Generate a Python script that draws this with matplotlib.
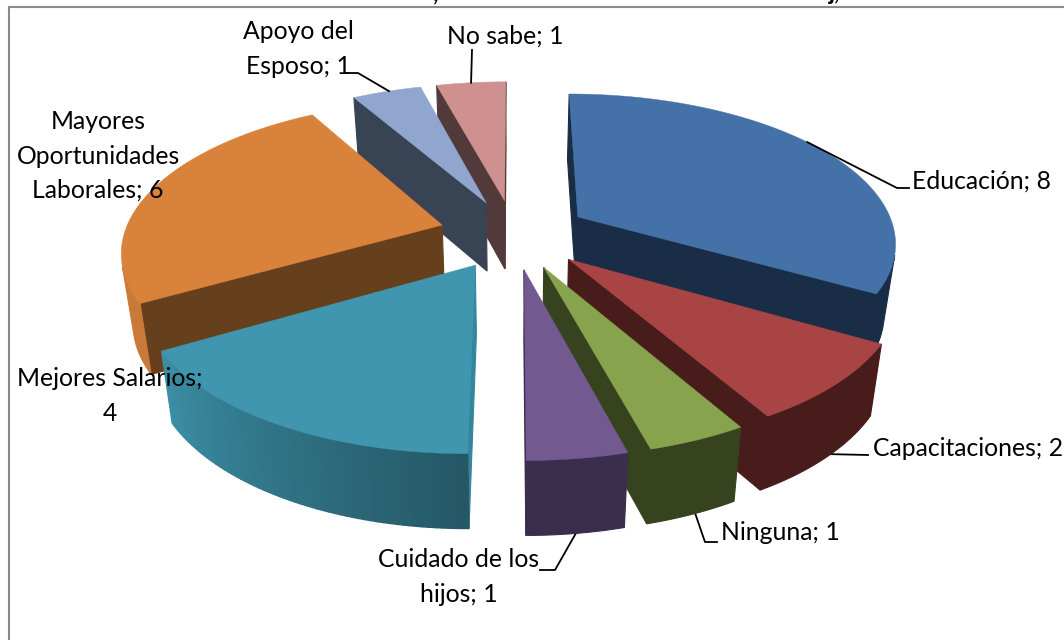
import numpy as np
import matplotlib
matplotlib.use("Agg")
import matplotlib.pyplot as plt

categories = ["Educación", "Capacitaciones", "Ninguna", "Cuidado de los hijos",
              "Mejores Salarios", "Mayores Oportunidades Laborales", "Apoyo del Esposo", "No sabe"]
values = [8, 2, 1, 1, 4, 6, 1, 1]
data_labels = ["Educación; 8", "Capacitaciones; 2", "Ninguna; 1", "Cuidado de los\nhijos; 1",
               "Mejores Salarios;\n4", "Mayores\nOportunidades\nLaborales; 6", "Apoyo del\nEsposo; 1", "No sabe; 1"]
top_colors = ["#4472a8", "#a84444", "#88a34d", "#725a90", "#3f96ae", "#d9823b", "#91a6cf", "#cf9090"]
cut_colors = ["#1a2d46", "#471c1b", "#37421f", "#3b2d4d", "#33869c", "#663f1c", "#384353", "#533a3a"]
wall_colors = ["#1a2d46", "#471c1b", "#37421f", "#3b2d4d", None, "#c97a38", "#384353", "#533a3a"]
draw_order = [7, 6, 0, 5, 1, 2, 3, 4]

label_pos = [(982, 181), (968, 448), (780, 533), (459, 577), (110, 396), (98, 156), (298, 49), (505, 36)]
leaders = {0: [(897, 188), (909, 188)], 1: [(868, 455)], 2: [(705, 542), (717, 542)],
           3: [(555, 570), (540, 570)], 6: [(358, 73), (347, 73)], 7: [(472, 50)]}
leader_angle = [55, 134, 157, 172.5, None, None, 338, 352.5]

# projection parameters (pixel scale)
CX, CY, A, B, K, EXPL = 514.0, 234.0, 318.0, 147.5, 0.159, 0.236
DROP, B_BOT, X_BOT = 69.0, 151.4, 0.97


def top(X, Y):
    d = 1 + K * Y
    return CX + A * X / d, CY - B * Y / d


def bottom(X, Y):
    d = 1 + K * Y
    return CX + X_BOT * A * X / d, CY + DROP - B_BOT * Y / d


def area(p):
    p = np.asarray(p)
    x, y = p[:, 0], p[:, 1]
    return 0.5 * np.sum(x * np.roll(y, -1) - np.roll(x, -1) * y)


def darker(hexcol, f):
    return tuple(min(1, c * f) for c in matplotlib.colors.to_rgb(hexcol))


def mej_shade(t):
    return float(np.interp(t, [180, 240], [0.58, 0.95]))


plt.rcParams["font.family"] = ["Lato", "DejaVu Sans"]
fig = plt.figure(figsize=(10.64, 6.4), dpi=100)
ax = fig.add_axes([0, 0, 1, 1])
ax.set_xlim(0, 1064)
ax.set_ylim(640, 0)
ax.axis("off")

# frame
ax.plot([9, 9, 1064], [640, 6.5, 6.5], color="#8a8a8a", lw=1.5, solid_joinstyle="miter", zorder=1)

edges = np.concatenate([[0], np.cumsum(values)]) * 360.0 / sum(values)
z = 2
for i in draw_order:
    t0, t1 = edges[i], edges[i + 1]
    mid = np.radians((t0 + t1) / 2)
    ox, oy = EXPL * np.sin(mid), EXPL * np.cos(mid)
    th = np.linspace(t0, t1, max(int(t1 - t0) + 1, 2))
    rad = np.radians(th)
    X, Y = np.sin(rad) + ox, np.cos(rad) + oy
    tp = [top(a, b) for a, b in zip(X, Y)]
    bt = [bottom(a, b) for a, b in zip(X, Y)]
    apex_t, apex_b = top(ox, oy), bottom(ox, oy)
    # cut faces
    for q in ([apex_t, tp[0], bt[0], apex_b], [tp[-1], apex_t, apex_b, bt[-1]]):
        if area(q) < 0:
            ax.fill(*zip(*q), color=cut_colors[i], lw=0.8, zorder=z)
    # outer wall: solid colours as merged runs, the shaded slice as fine bands
    vis = [k for k in range(len(th) - 1)
           if area([tp[k], tp[k + 1], bt[k + 1], bt[k]]) < 0]
    if wall_colors[i] is None:
        for k in vis:
            q = [tp[k], tp[k + 1], bt[k + 1], bt[k]]
            col = darker(top_colors[i], mej_shade((th[k] + th[k + 1]) / 2))
            ax.fill(*zip(*q), facecolor=col, edgecolor=col, lw=1.0, zorder=z)
    else:
        runs = []
        for k in vis:
            if runs and runs[-1][-1] == k - 1:
                runs[-1].append(k)
            else:
                runs.append([k])
        for run in runs:
            idx = run + [run[-1] + 1]
            poly = [tp[k] for k in idx] + [bt[k] for k in reversed(idx)]
            ax.fill(*zip(*poly), color=wall_colors[i], lw=0.8, zorder=z)
    ax.fill(*zip(*([apex_t] + tp)), color=top_colors[i], lw=0.3, zorder=z + 0.5)
    z += 1

# leader lines start on the rim of their slice
for i, pts in leaders.items():
    mid = np.radians((edges[i] + edges[i + 1]) / 2)
    ox, oy = EXPL * np.sin(mid), EXPL * np.cos(mid)
    a = np.radians(leader_angle[i])
    X, Y = np.sin(a) + ox, np.cos(a) + oy
    front = 90 < leader_angle[i] < 270
    start = bottom(X, Y) if front else top(X, Y)
    xs, ys = zip(*([start] + pts))
    ax.plot(xs, ys, color="black", lw=1.3, zorder=1.5 if front else 30)

for txt, (x, y) in zip(data_labels, label_pos):
    ax.text(x, y, txt, ha="center", va="center", fontsize=17.8, color="black",
            linespacing=1.58, zorder=40)

# remnants of the cropped title
ax.text(436, 0, ",", ha="center", va="baseline", fontsize=17, fontweight="bold", color="black")
ax.text(835, 0, "j,", ha="center", va="baseline", fontsize=17, fontweight="bold", color="black")

fig.savefig("out.png", dpi=100)
